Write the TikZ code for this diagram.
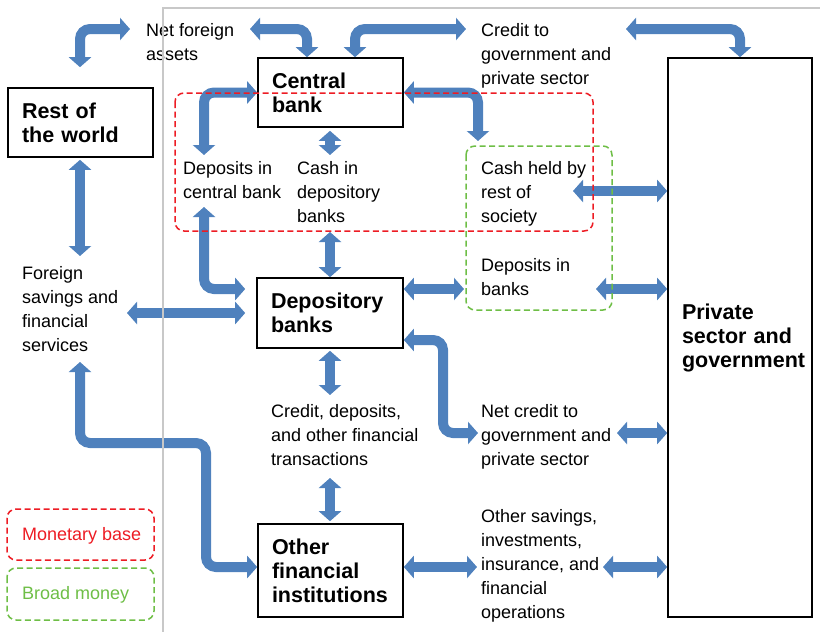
\documentclass[tikz,border=0pt]{standalone}
\usepackage{fontspec}
\setmainfont{Liberation Sans}
\usetikzlibrary{arrows.meta}
\definecolor{flowblue}{RGB}{79,129,189}
\definecolor{mbred}{RGB}{237,28,36}
\definecolor{bmgreen}{RGB}{110,190,70}
\definecolor{framegray}{RGB}{200,200,200}
\begin{document}
\begin{tikzpicture}[x=1pt,y=-1pt,
  flow/.style={draw=flowblue, line width=10pt, rounded corners=10pt,
    {Triangle[width=22pt,length=10pt]}-{Triangle[width=22pt,length=10pt]}},
  sector/.style={draw=black, line width=1.6pt, inner xsep=14pt, inner ysep=0pt,
    align=left, font=\fontsize{21.5}{24}\selectfont\bfseries},
  lbl/.style={inner sep=0pt, anchor=base west, align=left,
    font=\fontsize{18}{24}\selectfont},
  mbase/.style={draw=mbred, line width=1.5pt, dash pattern=on 6pt off 3.5pt, rounded corners=9pt},
  bmoney/.style={draw=bmgreen, line width=1.5pt, dash pattern=on 6pt off 3.5pt, rounded corners=9pt}]
\useasboundingbox (0,0) rectangle (820,632);

% sectors
\node[sector, text width=117pt, minimum width=145pt, minimum height=69pt] (rw) at (80.5,122.5) {Rest of\\the world};
\node[sector, text width=117pt, minimum width=145pt, minimum height=69pt] (cb) at (330.5,92.5) {Central\\bank};
\node[sector, text width=118pt, minimum width=146pt, minimum height=70pt] (db) at (330,313) {Depository\\banks};
\node[sector, text width=117pt, minimum width=145pt, minimum height=93pt] (ofi) at (330.5,570.5) {Other\\financial\\institutions};
\node[sector, text width=116pt, minimum width=144pt, minimum height=559pt] (ps) at (740,337.5) {Private\\sector and\\government};

% flow labels (placed at the baseline of their last line)
\node[lbl] (nfa) at (146,60.7) {Net foreign\\assets};
\node[lbl] (cgp) at (481,84.7) {Credit to\\government and\\private sector};
\node[lbl] (dcb) at (183,198) {Deposits in\\central bank};
\node[lbl] (cdb) at (297,222) {Cash in\\depository\\banks};
\node[lbl] (chr) at (481,222) {Cash held by\\rest of\\society};
\node[lbl] (fsf) at (22,351.3) {Foreign\\savings and\\financial\\services};
\node[lbl] (dib) at (481,295) {Deposits in\\banks};
\node[lbl] (cdo) at (271,465.3) {Credit, deposits,\\and other financial\\transactions};
\node[lbl] (ncg) at (481,465.3) {Net credit to\\government and\\private sector};
\node[lbl] (osi) at (481,618.7) {Other savings,\\investments,\\insurance, and\\financial\\operations};

% arrow ends beside the labels
\coordinate (nfaW) at (130,29);
\coordinate (nfaE) at (250,29);
\coordinate (cgpW) at (466,29);
\coordinate (cgpE) at (626,29);
\coordinate (dcbN) at (204,155);
\coordinate (dcbS) at (204,207);
\coordinate (cdbN) at (330,155);
\coordinate (cdbS) at (330,232);
\coordinate (chrN) at (478,141);
\coordinate (chrE) at (573,191);
\coordinate (fsfN) at (80,256);
\coordinate (fsfE) at (127,313);
\coordinate (fsfS) at (80,362);
\coordinate (jog)  at (206,443);
\coordinate (dibW) at (464,289);
\coordinate (dibE) at (596,289);
\coordinate (ncgW) at (478,433);
\coordinate (ncgE) at (617,433);
\coordinate (cdoN) at (330,395);
\coordinate (cdoS) at (330,478);
\coordinate (osiW) at (477,567);
\coordinate (osiE) at (603,567);

% flows
\draw[flow] ([yshift=20pt]rw.north -| fsfN) |- (nfaW);
\draw[flow] (nfaE) -| ([xshift=-23.5pt]cb.north);
\draw[flow] ([xshift=24.5pt]cb.north) |- (cgpW);
\draw[flow] (cgpE) -| (ps.north);
\draw[flow] (cb.west) -| (dcbN);
\draw[flow] ([yshift=-3pt]cb.south -| cdbN) -- (cdbN);
\draw[flow] (cb.east) -| (chrN);
\draw[flow] (chrE) -- (ps.west |- chrE);
\draw[flow] (dcbS) |- ([shift={(-11pt,24pt)}]db.west);
\draw[flow] (cdbS) -- (db.north);
\draw[flow] (fsfE) -- ([xshift=-11pt]db.west);
\draw[flow] ([yshift=-2pt]rw.south -| fsfN) -- (fsfN);
\draw[flow] ([yshift=24pt]db.east) -- (dibW);
\draw[flow] (dibE) -- (ps.west |- dibE);
\draw[flow] ([yshift=-27pt]db.east) -| ([xshift=-35pt]ncgW) -- (ncgW);
\draw[flow] (ncgE) -- (ps.west |- ncgE);
\draw[flow] ([yshift=-2pt]db.south) -- (cdoN);
\draw[flow] (cdoS) -- ([yshift=2pt]ofi.north -| cdoS);
\draw[flow] (fsfS) |- (jog) |- ([yshift=3.5pt]ofi.west);
\draw[flow] ([yshift=3.5pt]ofi.east) -- (osiW);
\draw[flow] (osiE) -- (ps.west |- osiE);

% money aggregates
\draw[mbase] (175,93) rectangle (593,231);
\draw[bmoney] (466,146) rectangle (612,310);

% legend
\draw[mbase] (7,509) rectangle (154,560);
\node[lbl, text=mbred] (lmb) at (22,540) {Monetary base};
\draw[bmoney] (7,568) rectangle (154,620);
\node[lbl, text=bmgreen] (lbm) at (22,599) {Broad money};

% domestic economy frame
\draw[framegray, line width=2pt] (820,8) -- (163,8) -- (163,632);
\end{tikzpicture}
\end{document}
